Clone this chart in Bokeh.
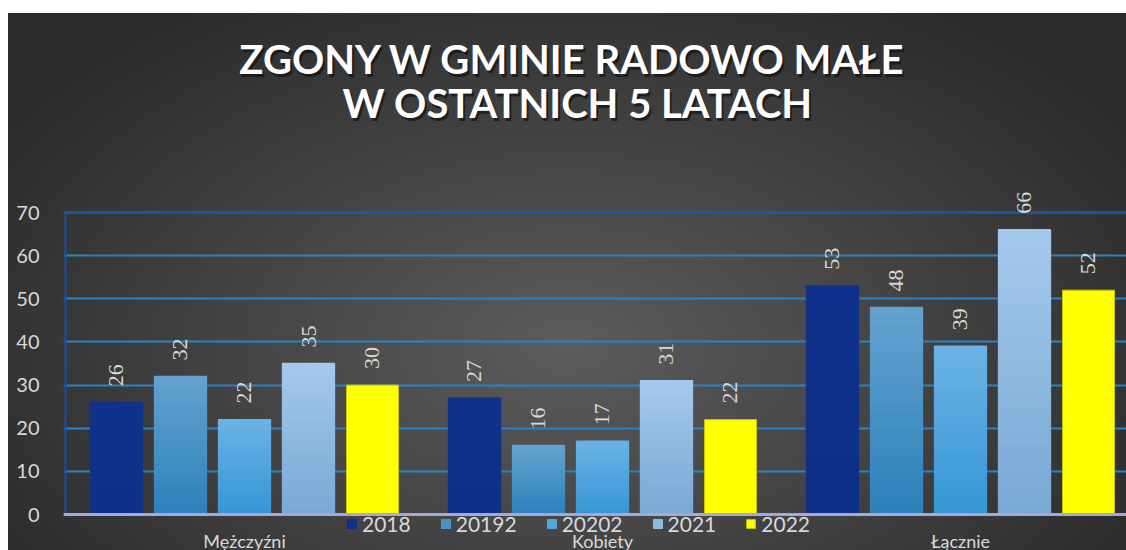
import math
from bokeh.plotting import figure
from bokeh.models import (Range1d, FixedTicker, Label, LabelSet, ColumnDataSource,
                          Legend, LegendItem, Span)
from bokeh.embed import file_html
from bokeh.resources import INLINE

# ---- data ----
categories = ["Mężczyźni", "Kobiety", "Łącznie"]
series_names = ["2018", "20192", "20202", "2021", "2022"]
v2018 = [26, 27, 53]
v2019 = [32, 16, 48]
v2020 = [22, 17, 39]
v2021 = [35, 31, 66]
v2022 = [30, 22, 52]
y_ticks = [0, 10, 20, 30, 40, 50, 60, 70]
title_lines = ["ZGONY W GMINIE RADOWO MAŁE", "W OSTATNICH 5 LATACH"]

series_values = [v2018, v2019, v2020, v2021, v2022]
# (bottom colour, top colour) of each series' vertical gradient
grad = [("#0f3088", "#11328c"),
        ("#2c80ba", "#64a2cf"),
        ("#3596d5", "#6cb2e5"),
        ("#78a9d4", "#a5c9ec"),
        ("#ffff00", "#ffff00")]

# ---- layout (page px) ----
W, H = 1118, 537           # figure spans page x 8..1126, y 13..550
LEFT = 55                  # frame starts at page x 63
page_top, page_bottom = 13, 550
y0_page, y70_page = 514, 212
s = (y0_page - y70_page) / 70.0
ymax = (y0_page - page_top) / s
ymin = -(page_bottom - y0_page) / s
group_px = 358.0
x0_page = 65
frame_left_page = 8 + LEFT
xmin = -(x0_page - frame_left_page) / group_px
xmax = xmin + (W - LEFT) / group_px
pitch = 64.0 / group_px
bw = 52.0 / group_px

FONT = "Lato"
TXT = "#d9d9d9"

p = figure(width=W, height=H, x_range=Range1d(xmin, xmax), y_range=Range1d(ymin, ymax),
           output_backend="svg", toolbar_location=None,
           min_border_left=LEFT, min_border_right=0, min_border_top=0, min_border_bottom=0)
p.margin = (13, 0, 0, 8)
p.background_fill_color = None
p.border_fill_color = None
p.outline_line_color = None
p.styles = {"background": "radial-gradient(ellipse 60% 75% at 50% 62%, #5c5c5c 0%, #464646 45%, #2b2b2b 100%)"}

# axes
p.xaxis.visible = False
p.yaxis.ticker = FixedTicker(ticks=y_ticks)
p.yaxis.axis_line_color = None
p.yaxis.major_tick_line_color = None
p.yaxis.minor_tick_line_color = None
p.yaxis.major_label_text_font = FONT
p.yaxis.major_label_text_font_size = "20px"
p.yaxis.major_label_text_color = TXT
p.yaxis.major_label_standoff = 18

p.xgrid.visible = False
p.ygrid.grid_line_color = "#2a82c6"
p.ygrid.grid_line_width = 2
p.add_layout(Span(location=y_ticks[-1], dimension="width", line_color="#1c4ea0", line_width=2))
p.segment(x0=[0], y0=[y_ticks[0]], x1=[0], y1=[y_ticks[-1]], line_color="#1c4ea0", line_width=2)
p.add_layout(Span(location=0, dimension="width", line_color="#a3a9dc", line_width=3))

# bars (vertical gradient built from slices of each bar)
N = 24
items = []
lx, ly, lt = [], [], []


def mix(c1, c2, t):
    a = [int(c1[i:i + 2], 16) for i in (1, 3, 5)]
    b = [int(c2[i:i + 2], 16) for i in (1, 3, 5)]
    return "#%02x%02x%02x" % tuple(round(a[k] + (b[k] - a[k]) * t) for k in range(3))


for i, (name, vals, (cb, ct)) in enumerate(zip(series_names, series_values, grad)):
    xs = [k + 0.5 + (i - 2) * pitch for k in range(len(categories))]
    legend_r = None
    if cb == ct:
        legend_r = p.vbar(x=xs, top=vals, width=bw, bottom=0, fill_color=cb,
                          line_color=("#c9c200" if i == 4 else None), line_width=1)
    else:
        for j in range(N):
            col = mix(cb, ct, (j + 0.5) / N)
            r = p.vbar(x=xs, bottom=[v * j / N for v in vals], top=[v * (j + 1) / N for v in vals],
                       width=bw, fill_color=col, line_color=col, line_width=1.3)
            if j == N // 2:
                legend_r = r
    items.append(LegendItem(label=name, renderers=[legend_r]))
    lx += xs
    ly += vals
    lt += [str(v) for v in vals]

labels = LabelSet(x="x", y="y", text="t", source=ColumnDataSource(dict(x=lx, y=ly, t=lt)),
                  angle=math.pi / 2, y_offset=16, text_align="left", text_baseline="middle",
                  text_font=FONT, text_font_size="22px", text_color=TXT)
p.add_layout(labels)

legend = Legend(items=items, orientation="horizontal", location=(283, 14),
                background_fill_alpha=0, border_line_color=None,
                label_text_color=TXT, label_text_font=FONT, label_text_font_size="21px",
                glyph_width=11, glyph_height=11, label_standoff=5, spacing=29,
                padding=0, margin=0)
p.add_layout(legend, "center")

for k, cat in enumerate(categories):
    p.add_layout(Label(x=k + 0.5, y=10, x_units="data", y_units="screen", text=cat,
                       text_align="center", text_baseline="middle", text_font=FONT,
                       text_font_size="18px", text_color=TXT))

# title
tpos = [(509, 492), (514, 448)]
for (tx, ty), line in zip(tpos, title_lines):
    p.add_layout(Label(x=tx + 2, y=ty - 3, x_units="screen", y_units="screen", text=line,
                       text_align="center", text_baseline="middle", text_font=FONT,
                       text_font_size="40px", text_font_style="bold", text_color="#111111",
                       text_alpha=0.7))
    p.add_layout(Label(x=tx, y=ty, x_units="screen", y_units="screen", text=line,
                       text_align="center", text_baseline="middle", text_font=FONT,
                       text_font_size="40px", text_font_style="bold", text_color="#ffffff"))

open("out.html", "w").write(file_html(p, INLINE))
